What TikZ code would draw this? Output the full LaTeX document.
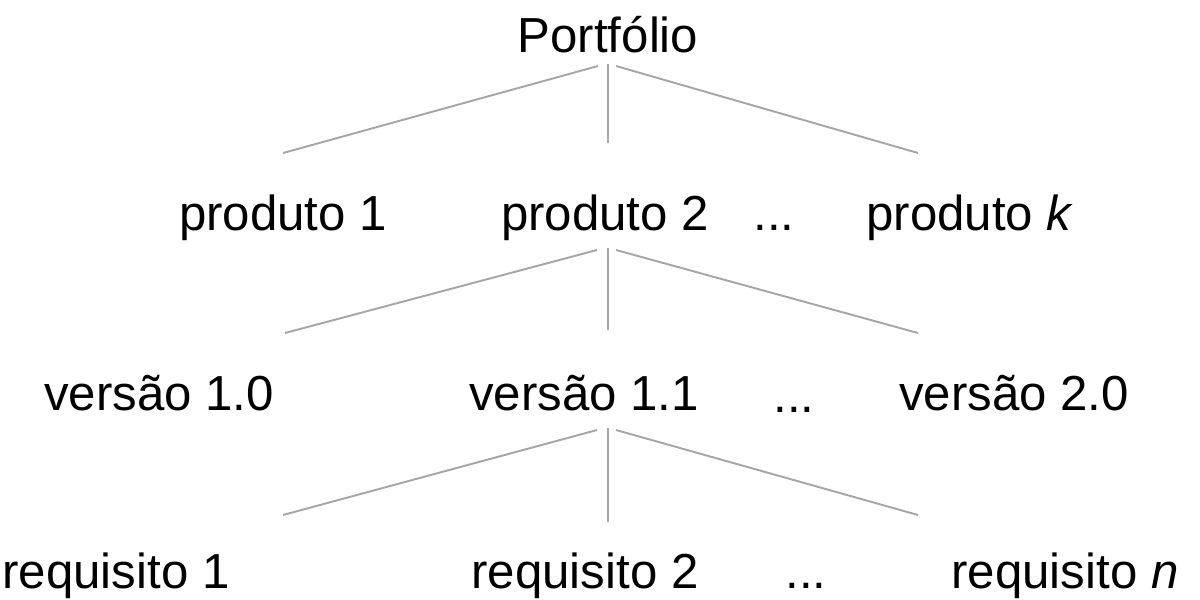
\documentclass[tikz,border=0pt]{standalone}
\usepackage{fontspec}
\setmainfont{Liberation Sans}
\begin{document}
\begin{tikzpicture}[x=0.02cm,y=-0.02cm,
		lbl/.style={anchor=base,inner sep=0pt,font=\fontsize{28}{34}\selectfont},
		ramo/.style={draw=gray!70,line width=1.1pt},
		tronco/.style={draw=gray!70,line width=0.6pt}]
			\useasboundingbox (0,0) rectangle (1200,599);
			% niveis
			\node[lbl] (port) at (608,52) {Portfólio};
			\node[lbl] (prod1) at (283,230) {produto 1};
			\node[lbl] (prod2) at (605,230) {produto 2};
			\node[lbl] (pdots) at (774,230) {...};
			\node[lbl] (prodk) at (970,230) {produto \textit{k}};
			\node[lbl] (ver10) at (159,410) {versão 1.0};
			\node[lbl] (ver11) at (584,410) {versão 1.1};
			\node[lbl] (vdots) at (794,412) {...};
			\node[lbl] (ver20) at (1014,410) {versão 2.0};
			\node[lbl] (req1) at (116,588) {requisito 1};
			\node[lbl] (req2) at (585,588) {requisito 2};
			\node[lbl] (rdots) at (806,588) {...};
			\node[lbl] (reqn) at (1065,588) {requisito \textit{n}};
			% pontas dos ramos
			\coordinate (a-l) at (598,66); \coordinate (a-m) at (608,64); \coordinate (a-r) at (616,66);
			\coordinate (b-l) at (283,153); \coordinate (b-m) at (608,143); \coordinate (b-r) at (918,153);
			\coordinate (c-l) at (597,250); \coordinate (c-m) at (608,248); \coordinate (c-r) at (616,250);
			\coordinate (d-l) at (285,333); \coordinate (d-m) at (608,330); \coordinate (d-r) at (918,333);
			\coordinate (e-l) at (597,430); \coordinate (e-m) at (608,428); \coordinate (e-r) at (616,430);
			\coordinate (f-l) at (283,515); \coordinate (f-m) at (608,522); \coordinate (f-r) at (918,515);
			\draw[ramo] (a-l) -- (b-l);
			\draw[tronco] (a-m) -- (b-m);
			\draw[ramo] (a-r) -- (b-r);
			\draw[ramo] (c-l) -- (d-l);
			\draw[tronco] (c-m) -- (d-m);
			\draw[ramo] (c-r) -- (d-r);
			\draw[ramo] (e-l) -- (f-l);
			\draw[tronco] (e-m) -- (f-m);
			\draw[ramo] (e-r) -- (f-r);
		\end{tikzpicture}
\end{document}
